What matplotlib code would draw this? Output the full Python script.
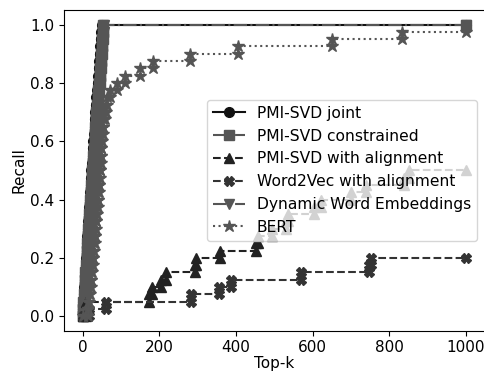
import matplotlib
matplotlib.use('Agg')
import matplotlib.pyplot as plt

# recall levels (hits out of 40 test words)
levels = [0.0, 0.025, 0.05, 0.075, 0.1, 0.125, 0.15, 0.175, 0.2, 0.225,
          0.25, 0.275, 0.3, 0.325, 0.35, 0.375, 0.4, 0.425, 0.45, 0.475,
          0.5, 0.525, 0.55, 0.575, 0.6, 0.625, 0.65, 0.675, 0.7, 0.725,
          0.75, 0.775, 0.8, 0.825, 0.85, 0.875, 0.9, 0.925, 0.95, 0.975, 1.0]

# k at which each method's recall changes (first entry = start)
joint_k = [1, 1, 2, 3, 4, 5, 6, 8, 9, 10, 11, 12, 13, 15, 16, 17, 18, 19, 21, 22, 23,
           24, 26, 27, 28, 29, 31, 32, 33, 35, 36, 37, 39, 40, 42, 43, 45, 46, 48, 49, 50]
constrained_k = [1, 1, 2, 3, 5, 6, 7, 8, 10, 11, 12, 13, 15, 16, 17, 19, 20, 21, 23, 24, 25,
                 27, 28, 29, 31, 32, 33, 35, 36, 38, 39, 41, 42, 44, 45, 47, 48, 50, 51, 52, 53]
dynamic_k = [1, 2, 3, 4, 5, 7, 8, 9, 11, 12, 13, 14, 16, 17, 18, 20, 21, 22, 24, 25, 26,
             28, 29, 30, 32, 33, 34, 36, 37, 39, 40, 42, 43, 45, 46, 48, 49, 51, 52, 54, 55]
bert_k = [1, 13, 15, 17, 19, 21, 23, 25, 27, 28, 30, 31, 33, 34, 36, 37, 39, 40, 42, 43,
          45, 46, 47, 48, 49, 50, 52, 54, 57, 60, 64, 71, 89, 110, 149, 184, 280, 406, 650, 832]
bert_r = levels[:40]

align_k = [1, 9, 172, 180, 205, 218, 293, 296, 358, 452, 458, 494, 530, 535,
           603, 621, 699, 738, 838, 851]
align_r = [0.0, 0.05, 0.075, 0.1, 0.125, 0.15, 0.175, 0.2, 0.225, 0.25, 0.275,
           0.3, 0.325, 0.35, 0.375, 0.4, 0.425, 0.45, 0.475, 0.5]

w2v_k = [1, 16, 60, 282, 356, 386, 569, 748, 752]
w2v_r = [0.0, 0.025, 0.05, 0.075, 0.1, 0.125, 0.15, 0.175, 0.2]

max_k = 1000


def step_points(ks, rs, end_k=max_k):
    # marker at bottom and top of every jump, then flat to the end
    xs, ys = [ks[0]], [rs[0]]
    for k, r in zip(ks[1:], rs[1:]):
        xs += [k, k]
        ys += [ys[-1], r]
    xs.append(end_k)
    ys.append(ys[-1])
    return xs, ys


plt.rcParams['font.family'] = 'DejaVu Sans'
plt.rcParams['font.size'] = 11

fig = plt.figure(figsize=(4.84, 3.72), dpi=100)
ax = fig.add_axes([63.5 / 484, 41.3 / 372, 421.7 / 484, 320.7 / 372])

x, y = step_points(joint_k, levels)
ax.plot(x, y, '-', color='#111111', marker='o', ms=7, lw=1.5, label='PMI-SVD joint')
x, y = step_points(constrained_k, levels)
ax.plot(x, y, '-.', color='#555555', marker='s', ms=7, lw=1.5, label='PMI-SVD constrained')
x, y = step_points(align_k, align_r)
ax.plot(x, y, '--', color='#222222', marker='^', ms=7, lw=1.5, label='PMI-SVD with alignment')
x, y = step_points(w2v_k, w2v_r)
ax.plot(x, y, '--', color='#333333', marker='X', ms=7, lw=1.5, label='Word2Vec with alignment')
x, y = step_points(dynamic_k, levels)
ax.plot(x, y, '-.', color='#555555', marker='v', ms=7, lw=1.5, zorder=1.9,
        label='Dynamic Word Embeddings')
x, y = step_points(bert_k, bert_r)
ax.plot(x, y, ':', color='#555555', marker='*', ms=9, lw=1.5, label='BERT')

ax.set_xlim(-50, 1050)
ax.set_ylim(-0.05, 1.05)
ax.set_xticks([0, 200, 400, 600, 800, 1000])
ax.set_yticks([0.0, 0.2, 0.4, 0.6, 0.8, 1.0])
ax.tick_params(pad=3)
ax.set_xlabel('Top-k', labelpad=1)
ax.set_ylabel('Recall', labelpad=3)
ax.legend(loc='center right', fontsize=11.2)

fig.savefig('out.png', dpi=100)
